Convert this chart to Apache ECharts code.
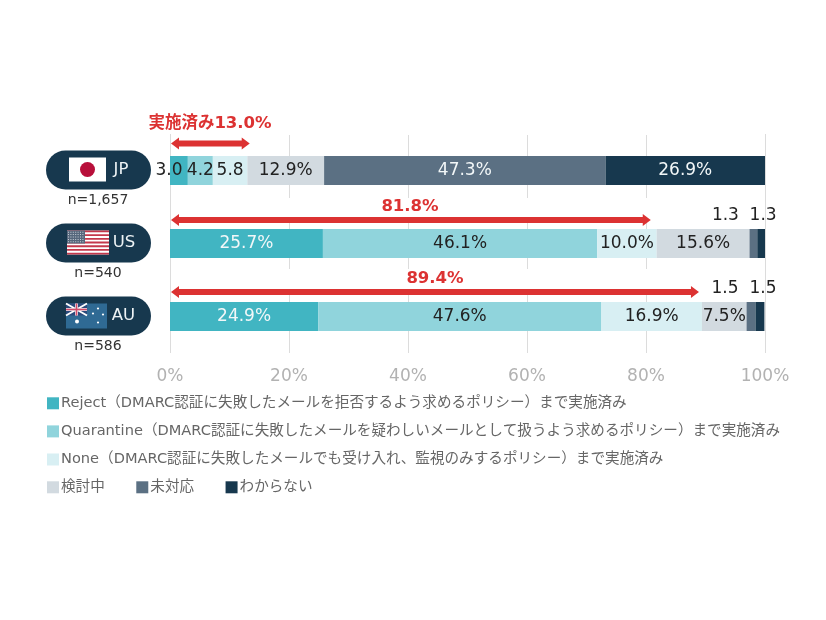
<!DOCTYPE html>
<html>
<head>
<meta charset="utf-8">
<script src="https://cdn.jsdelivr.net/npm/echarts@6/dist/echarts.min.js"></script>
<style>
html, body { margin: 0; padding: 0; background: #fff; }
#main { width: 826px; height: 620px; }
</style>
</head>
<body>
<div id="main"></div>
<script>
const categories = ['JP', 'US', 'AU']
const sampleSizes = ['n=1,657', 'n=540', 'n=586']
const seriesNames = [
  'Reject（DMARC認証に失敗したメールを拒否するよう求めるポリシー）まで実施済み',
  'Quarantine（DMARC認証に失敗したメールを疑わしいメールとして扱うよう求めるポリシー）まで実施済み',
  'None（DMARC認証に失敗したメールでも受け入れ、監視のみするポリシー）まで実施済み',
  '検討中',
  '未対応',
  'わからない'
]
const rejectData = [3.0, 25.7, 24.9]
const quarantineData = [4.2, 46.1, 47.6]
const noneData = [5.8, 10.0, 16.9]
const consideringData = [12.9, 15.6, 7.5]
const unsupportedData = [47.3, 1.3, 1.5]
const unknownData = [26.9, 1.3, 1.5]
const rejectLabels = ['3.0', '25.7%', '24.9%']
const quarantineLabels = ['4.2', '46.1%', '47.6%']
const noneLabels = ['5.8', '10.0%', '16.9%']
const consideringLabels = ['12.9%', '15.6%', '7.5%']
const unsupportedLabels = ['47.3%', '1.3', '1.5']
const unknownLabels = ['26.9%', '1.3', '1.5']
const arrowEnds = [13.4, 80.8, 88.9]
const arrowLabels = ['実施済み13.0%', '81.8%', '89.4%']
const axisTicks = [0, 20, 40, 60, 80, 100]

const font = '"DejaVu Sans", "Noto Sans CJK JP", sans-serif'
const colors = ['#41b5c2', '#90d4dc', '#d8eff3', '#d2dae0', '#5b7083', '#17384e']
const navy = '#17384e'
const red = '#dc3232'

const dataSets = [rejectData, quarantineData, noneData, consideringData, unsupportedData, unknownData]
const labelSets = [rejectLabels, quarantineLabels, noneLabels, consideringLabels, unsupportedLabels, unknownLabels]
// 白文字にするセル [series][row]
const whiteText = [[0, 1, 1], [0, 0, 0], [0, 0, 0], [0, 0, 0], [1, 0, 0], [1, 0, 0]]
// バーの外に逃がすラベル
const labelOffsets = {
  '0-0': [-10, 0],
  '4-1': [-28, -28],
  '5-1': [2, -28],
  '4-2': [-26, -28],
  '5-2': [3, -28]
}

const barSeries = dataSets.map((values, s) => ({
  name: seriesNames[s],
  type: 'bar',
  stack: 'total',
  barWidth: 29,
  z: 3,
  itemStyle: { color: colors[s] },
  data: values.map((v, i) => ({
    value: v,
    label: {
      show: true,
      position: 'inside',
      formatter: labelSets[s][i],
      color: whiteText[s][i] ? '#f2f7f8' : '#222',
      fontFamily: font,
      fontSize: 17,
      offset: labelOffsets[s + '-' + i] || [0, 0]
    }
  }))
}))

// 目盛線 行ごとに切れている（0%と100%は通し）
const gridSegments = [[-35.5, 27.5], [-20.5, 25.5], [-21.5, 36.5]]
const gridData = []
axisTicks.forEach(t => categories.forEach((c, i) => gridData.push([t, i])))
const gridSeries = {
  type: 'custom',
  z: 1,
  silent: true,
  encode: { x: 0, y: 1 },
  data: gridData,
  clip: false,
  renderItem (params, api) {
    const tick = api.value(0)
    const row = api.value(1)
    const p = api.coord([tick, row])
    const x = Math.round(p[0]) + 0.5
    const full = tick === 0 || tick === 100
    // 通しの線は行間も埋める
    const seg = full ? [-36.5, 36.5] : gridSegments[row]
    return {
      type: 'line',
      shape: { x1: x, y1: p[1] + seg[0], x2: x, y2: p[1] + seg[1] },
      style: { stroke: '#dcdcdc', lineWidth: 1 }
    }
  }
}

// 赤い矢印
const arrowOffsetY = [27, 23.5, 24.5]
const arrowTextY = [46.5, 36.5, 37.5]
const arrowTextX = [210, 410, 435]
const arrowSeries = {
  type: 'custom',
  z: 5,
  silent: true,
  encode: { x: 0, y: 1 },
  data: arrowEnds.map((v, i) => [v, i]),
  clip: false,
  renderItem (params, api) {
    const i = api.value(1)
    const end = api.coord([api.value(0), i])
    const start = api.coord([0, i])
    const y = end[1] - arrowOffsetY[i]
    const x0 = start[0] + 1
    const x1 = end[0]
    const h = 6
    const s = 3
    const len = 8
    const points = [
      [x0, y], [x0 + len, y - h], [x0 + len, y - s],
      [x1 - len, y - s], [x1 - len, y - h], [x1, y],
      [x1 - len, y + h], [x1 - len, y + s], [x0 + len, y + s], [x0 + len, y + h]
    ]
    return {
      type: 'group',
      children: [
        { type: 'polygon', shape: { points }, style: { fill: red } },
        {
          type: 'text',
          style: {
            x: arrowTextX[i],
            y: end[1] - arrowTextY[i],
            text: arrowLabels[i],
            fill: red,
            font: 'bold 16.5px ' + font,
            textAlign: 'center',
            textVerticalAlign: 'middle'
          }
        }
      ]
    }
  }
}

const legendText = { color: '#666', fontFamily: font, fontSize: 14.6, padding: [0, 0, 0, -3] }

const chart = echarts.init(document.getElementById('main'))
chart.setOption({
  backgroundColor: '#fff',
  animation: false,
  grid: { left: 170, right: 61, top: 134, height: 219 },
  legend: [
    {
      data: seriesNames.slice(0, 3),
      orient: 'vertical',
      left: 47,
      top: 396,
      padding: 0,
      icon: 'rect',
      itemWidth: 12,
      itemHeight: 12,
      itemGap: 13.5,
      textStyle: legendText
    },
    {
      data: seriesNames.slice(3),
      orient: 'horizontal',
      left: 47,
      top: 480,
      padding: 0,
      icon: 'rect',
      itemWidth: 12,
      itemHeight: 12,
      itemGap: 31.5,
      textStyle: legendText
    }
  ],
  xAxis: {
    type: 'value',
    min: 0,
    max: 100,
    interval: 20,
    axisLine: { show: false },
    axisTick: { show: false },
    splitLine: { show: false },
    axisLabel: {
      color: '#b2b2b2',
      fontFamily: font,
      fontSize: 17,
      margin: 15,
      formatter: v => v + '%',
      customValues: axisTicks
    }
  },
  yAxis: {
    type: 'category',
    inverse: true,
    data: categories,
    axisLine: { show: false },
    axisTick: { show: false },
    axisLabel: { show: false }
  },
  series: barSeries.concat(gridSeries, arrowSeries)
})

// 国名のピルと国旗
function flagJP (x, y) {
  return [
    { type: 'rect', shape: { x, y, width: 37, height: 24 }, style: { fill: '#fff' } },
    { type: 'circle', shape: { cx: x + 18.5, cy: y + 12, r: 7.5 }, style: { fill: '#b80f3a' } }
  ]
}
function flagUS (x, y) {
  const els = [{ type: 'rect', shape: { x, y, width: 42, height: 24 }, style: { fill: '#fff' } }]
  for (let i = 0; i < 7; i++) {
    els.push({ type: 'rect', shape: { x, y: y + i * 3.7, width: 42, height: 1.85 }, style: { fill: '#c4384c' } })
  }
  els.push({ type: 'rect', shape: { x, y, width: 18, height: 13 }, style: { fill: '#56677c' } })
  for (let r = 0; r < 5; r++) {
    for (let c = 0; c < 7; c++) {
      els.push({ type: 'rect', shape: { x: x + 1 + c * 2.4, y: y + 1.2 + r * 2.4, width: 1, height: 1 }, style: { fill: '#c9d0d8' } })
    }
  }
  return els
}
function flagAU (x, y) {
  const els = [
    { type: 'rect', shape: { x, y, width: 41, height: 25 }, style: { fill: '#2f6a94' } },
    { type: 'rect', shape: { x, y, width: 21, height: 12 }, style: { fill: '#2a4a7c' } },
    { type: 'line', shape: { x1: x, y1: y, x2: x + 21, y2: y + 12 }, style: { stroke: '#fff', lineWidth: 2 } },
    { type: 'line', shape: { x1: x + 21, y1: y, x2: x, y2: y + 12 }, style: { stroke: '#fff', lineWidth: 2 } },
    { type: 'rect', shape: { x, y: y + 4.5, width: 21, height: 3 }, style: { fill: '#e8e8ee' } },
    { type: 'rect', shape: { x: x + 9, y, width: 3, height: 12 }, style: { fill: '#e8e8ee' } },
    { type: 'rect', shape: { x, y: y + 5.2, width: 21, height: 1.6 }, style: { fill: '#d04a6a' } },
    { type: 'rect', shape: { x: x + 9.7, y, width: 1.6, height: 12 }, style: { fill: '#d04a6a' } },
    { type: 'circle', shape: { cx: x + 11, cy: y + 18, r: 2 }, style: { fill: '#fff' } }
  ]
  const stars = [[32, 5], [27, 10], [37, 11], [32, 19]]
  stars.forEach(p => els.push({ type: 'circle', shape: { cx: x + p[0], cy: y + p[1], r: 1.1 }, style: { fill: '#fff' } }))
  return els
}

const flagMakers = [flagJP, flagUS, flagAU]
const flagX = [69, 67, 66]
const codeX = [121, 124, 123.5]

const pills = []
categories.forEach((code, i) => {
  const cy = chart.convertToPixel({ yAxisIndex: 0 }, code) - 0.5
  pills.push({
    type: 'rect',
    shape: { x: 46, y: cy - 19.5, width: 105, height: 39, r: 19.5 },
    style: { fill: navy }
  })
  flagMakers[i](flagX[i], cy - 12.5).forEach(el => pills.push(el))
  pills.push({
    type: 'text',
    style: {
      x: codeX[i],
      y: cy,
      text: code,
      fill: '#eef3f5',
      font: '16.5px ' + font,
      textAlign: 'center',
      textVerticalAlign: 'middle'
    }
  })
  pills.push({
    type: 'text',
    style: {
      x: 98,
      y: cy + 30,
      text: sampleSizes[i],
      fill: '#333',
      font: '14px ' + font,
      textAlign: 'center',
      textVerticalAlign: 'middle'
    }
  })
})
chart.setOption({ graphic: pills.map(el => Object.assign({ z: 10 }, el)) })
</script>
</body>
</html>
